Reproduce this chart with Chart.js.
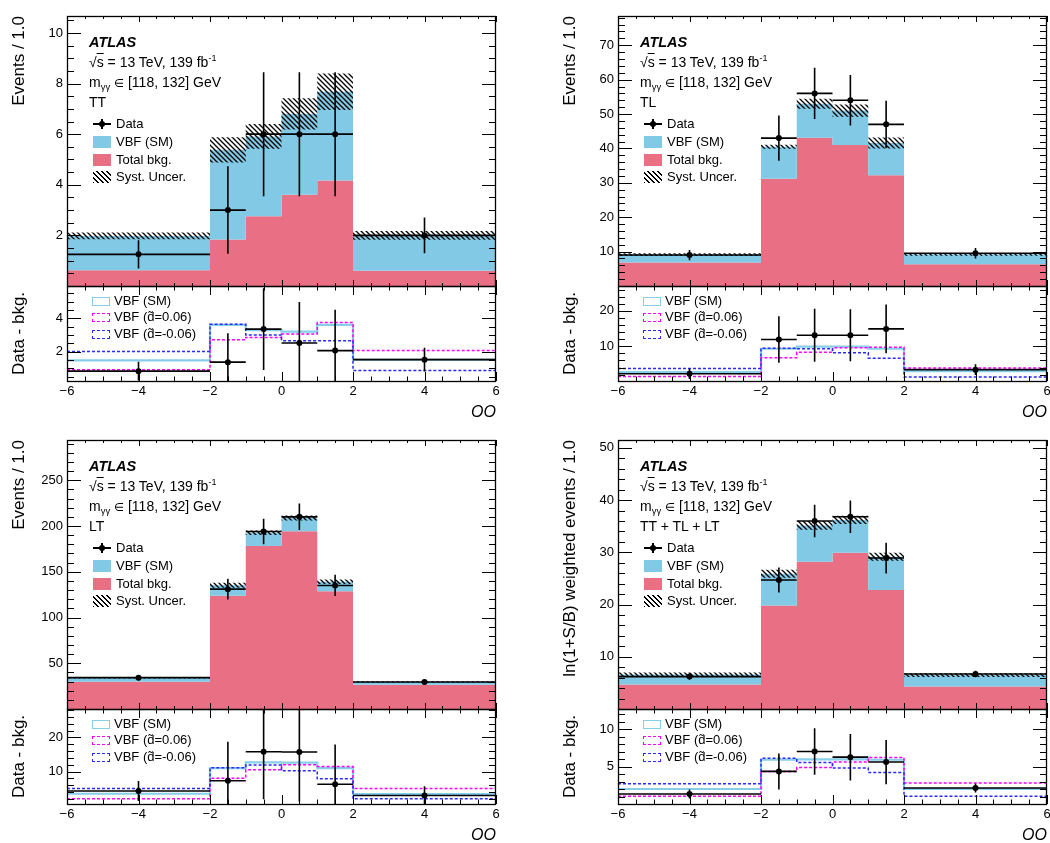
<!DOCTYPE html>
<html>
<head>
<meta charset="utf-8">
<script src="https://cdn.jsdelivr.net/npm/chart.js@4.4.1/dist/chart.umd.min.js"></script>
<style>
html,body{margin:0;padding:0;background:#fff;}
body{width:1050px;height:843px;position:relative;overflow:hidden;font-family:"Liberation Sans",Arial,Helvetica,sans-serif;color:#000;}
canvas{position:absolute;}
.t{position:absolute;white-space:nowrap;font-size:14px;line-height:16px;height:16px;z-index:5;}
.lg{font-size:13px;}
.atlas{font-weight:bold;font-style:italic;font-size:14.5px;}
.box{position:absolute;box-sizing:border-box;z-index:5;}
sup{font-size:9px;vertical-align:6px;line-height:0;}
sub{font-size:9.5px;vertical-align:-3px;line-height:0;}
.ov{text-decoration:overline;}
.el{font-family:"DejaVu Sans",sans-serif;font-size:11.5px;}
</style>
</head>
<body>
<script>
// ---------------- data ----------------
const binEdges = [-6, -2, -1, 0, 1, 2, 6];
const binCenters = [-4, -1.5, -0.5, 0.5, 1.5, 4];
const xTickValues = [-6, -4, -2, 0, 2, 4, 6];

// TT
const ttBkg = [0.62, 1.84, 2.76, 3.61, 4.17, 0.60];
const ttVbf = [1.36, 3.54, 3.15, 3.19, 3.51, 1.40];
const ttSyst = [0.13, 0.50, 0.49, 0.62, 0.72, 0.17];
const ttData = [1.25, 3, 6, 6, 6, 2];
const ttErr = [0.56, 1.73, 2.45, 2.45, 2.45, 0.71];
const ttDiffSM = [1.47, 3.60, 3.29, 3.20, 3.60, 1.52];
const ttDiffPos = [0.91, 2.71, 2.85, 3.05, 3.74, 2.06];
const ttDiffNeg = [2.00, 3.64, 2.99, 2.65, 2.65, 0.87];
const ttDiffData = [0.83, 1.37, 3.35, 2.52, 2.06, 1.52];
const ttMainTicks = [2, 4, 6, 8, 10];
const ttDiffTicks = [2, 4];

// TL
const tlBkg = [6.8, 31.2, 43.1, 41.0, 32.2, 6.3];
const tlVbf = [2.3, 9.3, 9.9, 10.0, 9.4, 2.9];
const tlSyst = [0.4, 0.6, 1.45, 1.8, 1.6, 0.4];
const tlData = [9.0, 43, 56, 54, 47, 9.5];
const tlErr = [1.5, 6.56, 7.48, 7.35, 6.86, 1.54];
const tlDiffSM = [2.7, 9.3, 9.9, 9.9, 9.3, 3.0];
const tlDiffPos = [1.5, 6.75, 8.3, 9.55, 9.7, 3.85];
const tlDiffNeg = [3.7, 9.45, 9.3, 8.15, 6.65, 1.3];
const tlDiffData = [2.25, 11.9, 13.1, 13.1, 14.9, 3.4];
const tlMainTicks = [10, 20, 30, 40, 50, 60, 70];
const tlDiffTicks = [10, 20];

// LT
const ltBkg = [29.9, 123.7, 178.2, 194.3, 128.7, 26.5];
const ltVbf = [4.3, 11.6, 14.4, 14.5, 10.3, 3.1];
const ltSyst = [0.8, 2.7, 2.5, 2.7, 2.4, 0.7];
const ltData = [34.25, 131, 194, 210, 135, 29.5];
const ltErr = [2.93, 11.45, 13.93, 14.49, 11.62, 2.72];
const ltDiffSM = [3.5, 11.0, 12.7, 12.6, 11.0, 3.4];
const ltDiffPos = [2.04, 8.07, 10.5, 11.95, 11.5, 5.05];
const ltDiffNeg = [5.05, 11.1, 11.9, 10.2, 7.87, 2.0];
const ltDiffData = [4.3, 7.3, 15.8, 15.7, 6.3, 3.0];
const ltMainTicks = [50, 100, 150, 200, 250];
const ltDiffTicks = [10, 20];

// TT + TL + LT (ln(1+S/B) weighted)
const allBkg = [4.7, 19.8, 28.2, 29.9, 22.8, 4.3];
const allVbf = [1.9, 6.1, 6.95, 6.3, 6.35, 2.2];
const allSyst = [0.4, 0.75, 0.85, 0.8, 0.75, 0.35];
const allData = [6.2, 24.7, 36.0, 36.8, 28.9, 6.7];
const allErr = [0.6, 2.4, 3.1, 3.1, 2.95, 0.6];
const allDiffSM = [2.0, 5.9, 5.95, 5.95, 5.9, 2.0];
const allDiffPos = [1.03, 4.35, 4.88, 5.6, 6.2, 2.8];
const allDiffNeg = [2.7, 6.1, 5.55, 4.8, 4.2, 1.03];
const allDiffData = [1.34, 4.35, 7.0, 6.25, 5.6, 2.13];
const allMainTicks = [10, 20, 30, 40, 50];
const allDiffTicks = [5, 10];

// ---------------- styling ----------------
const FONT = "'Liberation Sans', Arial, sans-serif";
const PINK = 'rgb(233,112,132)';
const BLUE = 'rgb(130,201,229)';
const SM_LINE = 'rgb(135,206,235)';
const MAG = '#ff00ff';
const NEG = '#2a2aff';

function makeHatch() {
  const c = document.createElement('canvas');
  c.width = 5; c.height = 5;
  const g = c.getContext('2d');
  g.strokeStyle = '#000'; g.lineWidth = 1.3;
  g.beginPath();
  g.moveTo(-1, -1); g.lineTo(6, 6);
  g.moveTo(-1, 4); g.lineTo(1, 6);
  g.moveTo(4, -1); g.lineTo(6, 1);
  g.stroke();
  return g.createPattern(c, 'repeat');
}
const HATCH = makeHatch();

const rootFrame = {
  id: 'rootFrame',
  afterDatasetsDraw(chart, args, o) {
    const {ctx, chartArea: a} = chart;
    const xs = chart.scales.x, ys = chart.scales.y;
    ctx.save();
    ctx.strokeStyle = '#000'; ctx.lineWidth = 1;
    ctx.beginPath();
    const isMaj = (v, m) => Math.abs(v / m - Math.round(v / m)) < 1e-6;
    const n0 = Math.ceil(xs.min / o.xMinor - 1e-6), n1 = Math.floor(xs.max / o.xMinor + 1e-6);
    for (let n = n0; n <= n1; n++) {
      const v = n * o.xMinor;
      const L = isMaj(v, o.xMajor) ? o.xMajLen : o.xMinLen;
      const px = Math.round(xs.getPixelForValue(v)) + 0.5;
      ctx.moveTo(px, a.bottom); ctx.lineTo(px, a.bottom - L);
      ctx.moveTo(px, a.top); ctx.lineTo(px, a.top + L);
    }
    const m0 = Math.ceil(ys.min / o.yMinor - 1e-6), m1 = Math.floor(ys.max / o.yMinor + 1e-6);
    for (let n = m0; n <= m1; n++) {
      const v = n * o.yMinor;
      const L = isMaj(v, o.yMajor) ? o.yMajLen : o.yMinLen;
      const py = Math.round(ys.getPixelForValue(v)) + 0.5;
      ctx.moveTo(a.left, py); ctx.lineTo(a.left + L, py);
      ctx.moveTo(a.right, py); ctx.lineTo(a.right - L, py);
    }
    ctx.stroke();
    ctx.lineWidth = 1.3;
    ctx.strokeRect(Math.round(a.left) + 0.5, Math.round(a.top) + 0.5,
                   Math.round(a.right - a.left) - 1, Math.round(a.bottom - a.top));
    ctx.restore();
  }
};

// ---------------- helpers ----------------
function steps(vals) {
  return binEdges.map((e, i) => ({x: e, y: vals[Math.min(i, vals.length - 1)]}));
}
function errSegments(vals, err) {
  const pts = [];
  vals.forEach((v, i) => {
    pts.push({x: binEdges[i], y: v}, {x: binEdges[i + 1], y: v}, {x: binCenters[i], y: null},
             {x: binCenters[i], y: v - err[i]}, {x: binCenters[i], y: v + err[i]}, {x: binCenters[i], y: null});
  });
  return pts;
}
function points(vals) { return binCenters.map((c, i) => ({x: c, y: vals[i]})); }

function mkCanvas(x, y, w, h) {
  const c = document.createElement('canvas');
  c.width = w; c.height = h;
  c.style.left = x + 'px'; c.style.top = y + 'px';
  c.style.width = w + 'px'; c.style.height = h + 'px';
  document.body.appendChild(c);
  return c;
}
function yAxis(min, max, ticks, title, align, w) {
  return {
    type: 'linear', min, max,
    afterBuildTicks: s => { s.ticks = ticks.map(v => ({value: v})); },
    afterFit: s => { s.width = w; s.paddingTop = 0; s.paddingBottom = 0; },
    grid: {display: false, drawTicks: false}, border: {display: false},
    ticks: {color: '#000', font: {family: FONT, size: 13}, padding: 4},
    title: {display: true, text: title, align, color: '#000',
            font: {family: FONT, size: 17}, padding: {top: 9, bottom: 0}}
  };
}
function dataSets(vals, err) {
  return [
    {data: errSegments(vals, err), borderColor: '#000', borderWidth: 1.6, pointRadius: 0,
     spanGaps: false, fill: false, order: 2},
    {data: points(vals), showLine: false, pointRadius: 3, pointBackgroundColor: '#000',
     pointBorderWidth: 0, order: 1}
  ];
}
const baseOpts = {responsive: false, animation: false, events: []};

function drawMain(p) {
  const cTop = p.top - 16;
  const c = mkCanvas(p.qx, cTop, p.right - p.qx + 10, p.mid - cTop + 10);
  const total = p.bkg.map((b, i) => b + p.vbf[i]);
  new Chart(c, {
    type: 'line',
    data: {datasets: [
      {data: steps(p.bkg), stepped: true, fill: 'origin', backgroundColor: PINK,
       borderColor: 'rgba(0,0,0,0)', borderWidth: 0, pointRadius: 0, order: 10},
      {data: steps(total), stepped: true, fill: 0, backgroundColor: BLUE,
       borderColor: 'rgba(0,0,0,0)', borderWidth: 0, pointRadius: 0, order: 9},
      {data: steps(total.map((t, i) => t - p.syst[i])), stepped: true, fill: false,
       borderColor: 'rgba(0,0,0,0)', borderWidth: 0, pointRadius: 0, order: 8},
      {data: steps(total.map((t, i) => t + p.syst[i])), stepped: true, fill: 2, backgroundColor: HATCH,
       borderColor: 'rgba(0,0,0,0)', borderWidth: 0, pointRadius: 0, order: 7},
      ...dataSets(p.data, p.err)
    ]},
    options: Object.assign({}, baseOpts, {
      layout: {padding: {left: 0, top: 16, right: 10, bottom: 10}},
      plugins: {legend: {display: false}, tooltip: {enabled: false},
        rootFrame: {xMajor: 2, xMinor: 0.5, xMajLen: 6, xMinLen: 3,
                    yMajor: p.yMajor, yMinor: p.yMinor, yMajLen: 14, yMinLen: 7}},
      scales: {
        x: {type: 'linear', min: -6, max: 6, display: false},
        y: yAxis(0, p.yMax, p.yTicks, p.yTitle, 'end', p.left - p.qx)
      }
    }),
    plugins: [rootFrame]
  });
}

function drawRatio(p) {
  const cTop = p.mid - 10;
  const c = mkCanvas(p.qx, cTop, p.right - p.qx + 10, p.bottom - cTop + 42);
  new Chart(c, {
    type: 'line',
    data: {datasets: [
      {data: steps(p.dSM), stepped: true, fill: false, borderColor: SM_LINE, borderWidth: 2.2,
       pointRadius: 0, order: 5},
      {data: steps(p.dPos), stepped: true, fill: false, borderColor: MAG, borderWidth: 1.5,
       borderDash: [3, 2], pointRadius: 0, order: 4},
      {data: steps(p.dNeg), stepped: true, fill: false, borderColor: NEG, borderWidth: 1.5,
       borderDash: [3, 2], pointRadius: 0, order: 3},
      ...dataSets(p.dData, p.err)
    ]},
    options: Object.assign({}, baseOpts, {
      layout: {padding: {left: 0, top: 10, right: 10, bottom: 2}},
      plugins: {legend: {display: false}, tooltip: {enabled: false},
        rootFrame: {xMajor: 2, xMinor: 0.5, xMajLen: 9, xMinLen: 4.5,
                    yMajor: p.rMajor, yMinor: p.rMinor, yMajLen: 14, yMinLen: 7}},
      scales: {
        x: {type: 'linear', min: -6, max: 6,
            afterBuildTicks: s => { s.ticks = xTickValues.map(v => ({value: v})); },
            afterFit: s => { s.height = 40; s.paddingLeft = 0; s.paddingRight = 0; },
            grid: {display: false, drawTicks: false}, border: {display: false},
            ticks: {color: '#000', font: {family: FONT, size: 13}, padding: 3, maxRotation: 0,
                    minRotation: 0, autoSkip: false,
                    callback: v => v < 0 ? '\u2212' + (-v) : String(v)},
            title: {display: true, text: 'OO', align: 'end', color: '#000',
                    font: {family: FONT, size: 16, style: 'italic', lineHeight: 1},
                    padding: {top: 0, bottom: 0}}},
        y: yAxis(p.rMin, p.rMax, p.rTicks, 'Data - bkg.', 'center', p.left - p.qx)
      }
    }),
    plugins: [rootFrame]
  });
}

function addText(html, x, y, cls) {
  const d = document.createElement('div');
  d.className = 't ' + (cls || '');
  d.innerHTML = html;
  d.style.left = x + 'px'; d.style.top = (y - 8) + 'px';
  document.body.appendChild(d);
}
function addBox(x, y, w, h, css) {
  const d = document.createElement('div');
  d.className = 'box';
  d.style.left = x + 'px'; d.style.top = y + 'px';
  d.style.width = w + 'px'; d.style.height = h + 'px';
  d.style.cssText += css;
  document.body.appendChild(d);
}

function drawLabels(p) {
  const x = p.left + 22, t = p.top;
  addText('ATLAS', x, t + 26, 'atlas');
  addText('\u221A<span class="ov">s</span> = 13 TeV, 139 fb<sup>-1</sup>', x, t + 46);
  addText('m<sub>\u03B3\u03B3</sub> <span class="el">\u2208</span> [118, 132] GeV', x, t + 66);
  addText(p.cat, x, t + 86);
  // main legend
  const mx = p.left + 26, tx = p.left + 49;
  const ys = [t + 108, t + 126, t + 144, t + 161];
  addBox(mx, ys[0] - 0.8, 18, 1.6, 'background:#000;');
  addBox(mx + 8.2, ys[0] - 5, 1.6, 10, 'background:#000;');
  addBox(mx + 6, ys[0] - 3, 6, 6, 'background:#000;border-radius:50%;');
  addText('Data', tx, ys[0], 'lg');
  addBox(mx, ys[1] - 6, 18, 12, 'background:' + BLUE + ';');
  addText('VBF (SM)', tx, ys[1], 'lg');
  addBox(mx, ys[2] - 6, 18, 12, 'background:' + PINK + ';');
  addText('Total bkg.', tx, ys[2], 'lg');
  addBox(mx, ys[3] - 6, 18, 12, 'background:repeating-linear-gradient(45deg,#000 0 1.2px,transparent 1.2px 3.5px);');
  addText('Syst. Uncer.', tx, ys[3], 'lg');
  // ratio legend
  const rx = p.left + 25, rt = p.left + 47;
  const ry = [p.mid + 15, p.mid + 31, p.mid + 48];
  addBox(rx, ry[0] - 4.5, 18, 9, 'border:1.5px solid ' + SM_LINE + ';');
  addText('VBF (SM)', rt, ry[0], 'lg');
  addBox(rx, ry[1] - 4.5, 18, 9, 'border:1.5px dashed ' + MAG + ';');
  addText('VBF (d\u0303=0.06)', rt, ry[1], 'lg');
  addBox(rx, ry[2] - 4.5, 18, 9, 'border:1.5px dashed ' + NEG + ';');
  addText('VBF (d\u0303=-0.06)', rt, ry[2], 'lg');
}

const panels = [
  {qx: 0, left: 67, right: 496, top: 16, mid: 286, bottom: 381, cat: 'TT', yTitle: 'Events / 1.0',
   bkg: ttBkg, vbf: ttVbf, syst: ttSyst, data: ttData, err: ttErr,
   dSM: ttDiffSM, dPos: ttDiffPos, dNeg: ttDiffNeg, dData: ttDiffData,
   yMax: 10.67, yTicks: ttMainTicks, yMajor: 2, yMinor: 0.5,
   rMin: 0.24, rMax: 5.93, rTicks: ttDiffTicks, rMajor: 2, rMinor: 0.5},
  {qx: 551, left: 618, right: 1047, top: 16, mid: 286, bottom: 381, cat: 'TL', yTitle: 'Events / 1.0',
   bkg: tlBkg, vbf: tlVbf, syst: tlSyst, data: tlData, err: tlErr,
   dSM: tlDiffSM, dPos: tlDiffPos, dNeg: tlDiffNeg, dData: tlDiffData,
   yMax: 78.5, yTicks: tlMainTicks, yMajor: 10, yMinor: 2,
   rMin: 0.2, rMax: 27, rTicks: tlDiffTicks, rMajor: 10, rMinor: 2},
  {qx: 0, left: 67, right: 496, top: 440, mid: 709, bottom: 804, cat: 'LT', yTitle: 'Events / 1.0',
   bkg: ltBkg, vbf: ltVbf, syst: ltSyst, data: ltData, err: ltErr,
   dSM: ltDiffSM, dPos: ltDiffPos, dNeg: ltDiffNeg, dData: ltDiffData,
   yMax: 294, yTicks: ltMainTicks, yMajor: 50, yMinor: 10,
   rMin: 0.5, rMax: 28.3, rTicks: ltDiffTicks, rMajor: 10, rMinor: 2},
  {qx: 551, left: 618, right: 1047, top: 440, mid: 709, bottom: 804, cat: 'TT + TL + LT',
   yTitle: 'ln(1+S/B) weighted events / 1.0',
   bkg: allBkg, vbf: allVbf, syst: allSyst, data: allData, err: allErr,
   dSM: allDiffSM, dPos: allDiffPos, dNeg: allDiffNeg, dData: allDiffData,
   yMax: 51.5, yTicks: allMainTicks, yMajor: 10, yMinor: 2,
   rMin: 0, rMax: 12.67, rTicks: allDiffTicks, rMajor: 5, rMinor: 1}
];

panels.forEach(p => { drawMain(p); drawRatio(p); });
panels.forEach(drawLabels);
</script>
</body>
</html>
